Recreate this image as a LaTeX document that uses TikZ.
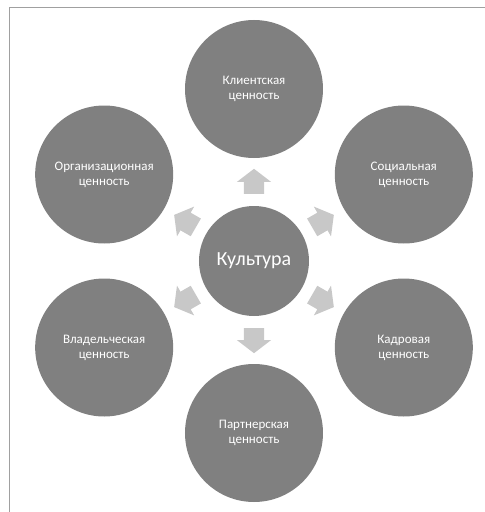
\documentclass[tikz,border=0pt]{standalone}
\usepackage{fontspec}
\setmainfont{Carlito}
\usepackage{xcolor}
\usetikzlibrary{shapes.arrows,calc}

\definecolor{valueGrey}{HTML}{808080}
\definecolor{arrowGrey}{HTML}{C8C8C8}
\definecolor{frameGrey}{HTML}{A0A0A0}

\begin{document}
\begin{tikzpicture}[x=1pt, y=1pt]
            \tikzstyle{valueStyle} = [circle,fill=valueGrey,text=white,
                                      minimum size=138pt,inner sep=0pt,
                                      align=center,font=\fontsize{13}{15}\selectfont]
            \tikzstyle{cultureStyle} = [circle,fill=valueGrey,text=white,
                                        minimum size=110pt,inner sep=0pt,
                                        font=\fontsize{20}{24}\selectfont]
            \tikzstyle{arrowStyle} = [single arrow,fill=arrowGrey,draw=none,
                                      inner xsep=0pt,inner ysep=10pt,
                                      minimum height=25pt,single arrow head extend=7pt,
                                      single arrow tip angle=105,anchor=tail]
            \useasboundingbox (-254,-251) rectangle (231,261);
            \draw[frameGrey, line width=0.8pt] (-244.5,-251) -- (-244.5,254) -- (231,254);
            \node[cultureStyle] (0) at (0,0) {Культура};
            \node[valueStyle] (1) at (90:172)  {Клиентская\\ценность};
            \node[valueStyle] (2) at (30:173)  {Социальная\\ценность};
            \node[valueStyle] (3) at (-30:173) {Кадровая\\ценность};
            \node[valueStyle] (4) at (-90:172) {Партнерская\\ценность};
            \node[valueStyle] (5) at (210:173) {Владельческая\\ценность};
            \node[valueStyle] (6) at (150:173) {Организационная\\ценность};
            \foreach \to/\angle in {1/90,2/30,3/-30,4/-90,5/210,6/150}
                \node[arrowStyle, rotate=\angle] (a\to) at ($(0)!67pt!(\to)$) {};
        \end{tikzpicture}
\end{document}
